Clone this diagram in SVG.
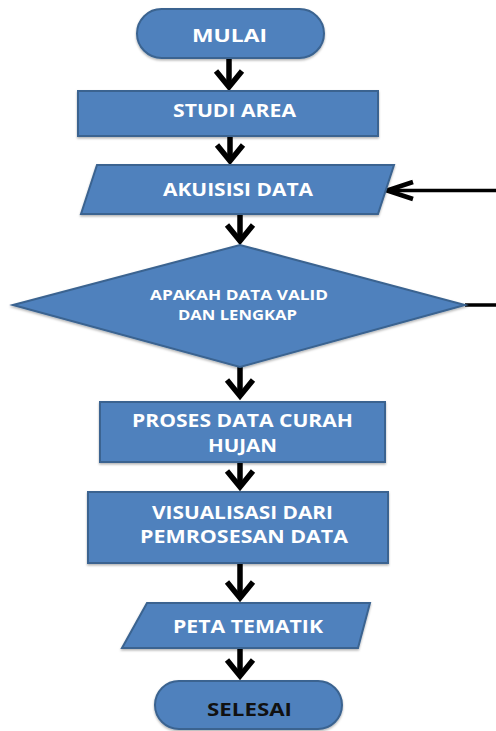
<svg xmlns="http://www.w3.org/2000/svg" width="496" height="731" viewBox="0 0 496 731">
  <defs>
    <marker id="chev" markerUnits="userSpaceOnUse" viewBox="-24 -18 30 36" markerWidth="30" markerHeight="36" refX="0" refY="0" orient="auto" overflow="visible">
      <path d="M-16,-13 L0,0 L-16,13" fill="none" stroke="#000" stroke-width="5.5" stroke-linejoin="miter"/>
    </marker>
    <marker id="chevS" markerUnits="userSpaceOnUse" viewBox="-30 -12 34 24" markerWidth="34" markerHeight="24" refX="0" refY="0" orient="auto" overflow="visible">
      <path d="M-26,-8.5 L0,0 L-26,8.5" fill="none" stroke="#000" stroke-width="4.5" stroke-linejoin="miter"/>
    </marker>
    <filter id="sh" x="-5%" y="-10%" width="110%" height="125%">
      <feDropShadow dx="0" dy="1.5" stdDeviation="1.2" flood-color="#000" flood-opacity="0.3"/>
    </filter>
  </defs>
  <style>
    .shape { fill: #4F81BD; stroke: #3A6390; stroke-width: 2; filter: url(#sh); }
    .t { font-family: "Open Sans", "Liberation Sans", sans-serif; font-weight: bold; fill: #fff; text-anchor: middle; }
    .big { font-size: 17px; }
    .small { font-size: 14.5px; }
    .dark { fill: #111; }
    .conn { fill: none; stroke: #000; stroke-width: 5.5; }
    .fb { fill: none; stroke: #000; stroke-width: 3.5; }
  </style>

  <g id="connectors">
    <path class="conn" d="M229,58 V87" marker-end="url(#chev)"/>
    <path class="conn" d="M230,137 V161" marker-end="url(#chev)"/>
    <path class="conn" d="M240,214 V241" marker-end="url(#chev)"/>
    <path class="conn" d="M240,367 V396" marker-end="url(#chev)"/>
    <path class="conn" d="M240,462 V487" marker-end="url(#chev)"/>
    <path class="conn" d="M240,563 V598" marker-end="url(#chev)"/>
    <path class="conn" d="M240,648 V676" marker-end="url(#chev)"/>
    <path class="fb" d="M465,305 H502 V190.5 H387" marker-end="url(#chevS)"/>
  </g>

  <g id="mulai">
    <rect class="shape" x="137" y="9" width="187" height="49" rx="24.5"/>
    <text class="t big" x="229.5" y="42" textLength="75" lengthAdjust="spacingAndGlyphs">MULAI</text>
  </g>
  <g id="studi-area">
    <rect class="shape" x="78" y="91" width="300" height="45"/>
    <text class="t big" x="234.5" y="117" textLength="123" lengthAdjust="spacingAndGlyphs">STUDI AREA</text>
  </g>
  <g id="akuisisi-data">
    <polygon class="shape" points="97,165 394,165 378,214 81,214"/>
    <text class="t big" x="238" y="196" textLength="150" lengthAdjust="spacingAndGlyphs">AKUISISI DATA</text>
  </g>
  <g id="apakah-valid">
    <polygon class="shape" points="13,305 240,245 465,305 240,367"/>
    <text class="t small" x="239" y="300" textLength="178" lengthAdjust="spacingAndGlyphs">APAKAH DATA VALID</text>
    <text class="t small" x="237.5" y="320" textLength="119" lengthAdjust="spacingAndGlyphs">DAN LENGKAP</text>
  </g>
  <g id="proses-data">
    <rect class="shape" x="100" y="402" width="285" height="60"/>
    <text class="t big" x="242.5" y="427" textLength="221" lengthAdjust="spacingAndGlyphs">PROSES DATA CURAH</text>
    <text class="t big" x="242.5" y="452" textLength="69" lengthAdjust="spacingAndGlyphs">HUJAN</text>
  </g>
  <g id="visualisasi">
    <rect class="shape" x="88" y="492" width="300" height="71"/>
    <text class="t big" x="242.5" y="519" textLength="181" lengthAdjust="spacingAndGlyphs">VISUALISASI DARI</text>
    <text class="t big" x="244" y="543" textLength="208" lengthAdjust="spacingAndGlyphs">PEMROSESAN DATA</text>
  </g>
  <g id="peta-tematik">
    <polygon class="shape" points="147,603 370,603 358,648 122,648"/>
    <text class="t big" x="248" y="633" textLength="150" lengthAdjust="spacingAndGlyphs">PETA TEMATIK</text>
  </g>
  <g id="selesai">
    <rect class="shape" x="155" y="681" width="187" height="48" rx="24"/>
    <text class="t big dark" x="249.5" y="716" textLength="85" lengthAdjust="spacingAndGlyphs">SELESAI</text>
  </g>
</svg>
